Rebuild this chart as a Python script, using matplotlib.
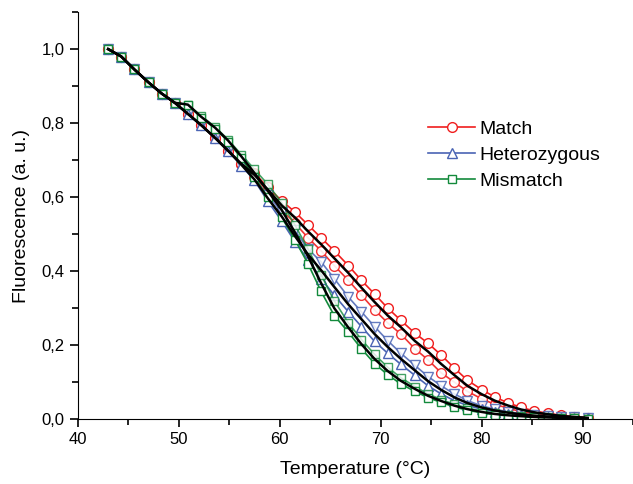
import numpy as np
import matplotlib
matplotlib.use("Agg")
import matplotlib.pyplot as plt
from matplotlib.ticker import MultipleLocator, FuncFormatter

plt.rcParams['font.family'] = ['Liberation Sans', 'DejaVu Sans']

# temperature grid (°C)
temp = [43.0, 44.3, 45.6, 47.0, 48.3, 49.6, 50.9, 52.2, 53.6, 54.9, 56.2,
        57.5, 58.8, 60.2, 61.5, 62.8, 64.1, 65.4, 66.8, 68.1, 69.4, 70.7,
        72.0, 73.4, 74.7, 76.0, 77.3, 78.6, 80.0, 81.3, 82.6, 83.9, 85.2,
        86.6, 87.9, 89.2, 90.5]

# shared start of all melting curves
common = [1.0, 0.98, 0.945, 0.91, 0.88, 0.855, 0.825, 0.795, 0.76, 0.725]

match_a = common + [0.69, 0.665, 0.627, 0.59, 0.56, 0.525, 0.49, 0.455, 0.415, 0.375,
                    0.338, 0.30, 0.267, 0.232, 0.205, 0.173, 0.138, 0.105, 0.08, 0.06,
                    0.044, 0.032, 0.022, 0.016, 0.01, 0.007, 0.004]
match_b = common + [0.69, 0.655, 0.615, 0.565, 0.53, 0.49, 0.455, 0.415, 0.375, 0.335,
                    0.295, 0.26, 0.23, 0.19, 0.16, 0.125, 0.10, 0.075, 0.055, 0.04,
                    0.03, 0.02, 0.015, 0.01, 0.007, 0.005, 0.003]

het_a = common + [0.69, 0.65, 0.605, 0.56, 0.51, 0.46, 0.425, 0.38, 0.33, 0.29,
                  0.25, 0.212, 0.178, 0.145, 0.115, 0.09, 0.068, 0.05, 0.036, 0.027,
                  0.02, 0.015, 0.011, 0.008, 0.006, 0.005, 0.003]
het_b = common + [0.685, 0.645, 0.59, 0.535, 0.48, 0.43, 0.38, 0.335, 0.29, 0.25,
                  0.21, 0.178, 0.148, 0.118, 0.09, 0.068, 0.05, 0.037, 0.027, 0.02,
                  0.015, 0.011, 0.008, 0.006, 0.004, 0.003, 0.002]

mis_a = common[:6] + [0.85, 0.815, 0.785, 0.75, 0.705, 0.655, 0.6, 0.545, 0.485, 0.42,
                      0.345, 0.28, 0.235, 0.19, 0.15, 0.12, 0.095, 0.075, 0.058, 0.045,
                      0.033, 0.024, 0.017, 0.012, 0.009, 0.007, 0.005, 0.004, 0.003,
                      0.002, 0.001]
mis_b = common[:6] + [0.85, 0.82, 0.79, 0.755, 0.715, 0.675, 0.635, 0.585, 0.525, 0.46,
                      0.39, 0.32, 0.26, 0.215, 0.175, 0.14, 0.112, 0.088, 0.068, 0.053,
                      0.04, 0.03, 0.022, 0.016, 0.012, 0.009, 0.007, 0.005, 0.004,
                      0.002, 0.001]

red = '#f01e1e'
blue = '#4a64b4'
green = '#138a3c'

fig = plt.figure(figsize=(6.33, 4.84), dpi=100)
ax = fig.add_axes([0.123, 0.134, 0.877, 0.841])

ms = 7
ax.plot(temp, match_b, '-o', color=red, mfc='white', mec=red, ms=ms, lw=1.2, alpha=0.9)
ax.plot(temp, match_a, '-o', color=red, mfc='white', mec=red, ms=ms, lw=1.2, label='Match')
ax.plot(temp, het_a, '-v', color=blue, mfc='white', mec=blue, ms=ms, lw=1.2, alpha=0.85)
ax.plot(temp, het_b, '-^', color=blue, mfc='white', mec=blue, ms=ms, lw=1.2, label='Heterozygous')
ax.plot(temp, mis_b, '-s', color=green, mfc='white', mec=green, ms=6, lw=1.2, alpha=0.8)
ax.plot(temp, mis_a, '-s', color=green, mfc='white', mec=green, ms=6, lw=1.2, label='Mismatch')

# black average curves
for a, b in [(match_a, match_b), (het_a, het_b), (mis_a, mis_b)]:
    ax.plot(temp, (np.array(a) + np.array(b)) / 2, color='black', lw=1.8, zorder=5)

ax.set_xlim(40, 95)
ax.set_ylim(0, 1.1)
ax.xaxis.set_major_locator(MultipleLocator(10))
ax.xaxis.set_minor_locator(MultipleLocator(5))
ax.yaxis.set_major_locator(MultipleLocator(0.2))
ax.yaxis.set_minor_locator(MultipleLocator(0.1))
ax.yaxis.set_major_formatter(FuncFormatter(lambda v, p: ('%.1f' % v).replace('.', ',')))

for s in ['top', 'right']:
    ax.spines[s].set_visible(False)
ax.tick_params(which='major', direction='out', length=6, width=1.2, labelsize=12)
ax.tick_params(which='minor', direction='out', length=4, width=1.2)

ax.set_xlabel('Temperature (°C)', fontsize=14, labelpad=10)
ax.set_ylabel('Fluorescence (a. u.)', fontsize=14, labelpad=8)

ax.legend(loc='upper left', bbox_to_anchor=(0.6, 0.778), frameon=False, fontsize=14,
          handlelength=2.4, handletextpad=0.2, labelspacing=0.45)

fig.savefig('out.png', dpi=100)
